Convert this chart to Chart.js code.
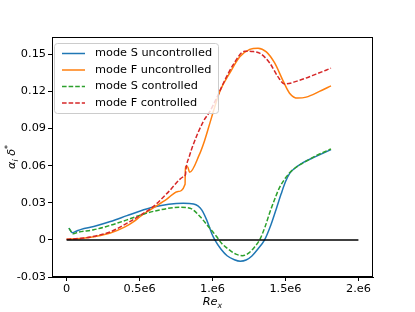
<!DOCTYPE html>
<html>
<head>
<meta charset="utf-8">
<script src="https://cdn.jsdelivr.net/npm/chart.js@4"></script>
<style>
  html, body { margin: 0; padding: 0; background: #fff; }
  #wrap { width: 415px; height: 312px; }
</style>
</head>
<body>
<div id="wrap"><canvas id="chart" width="415" height="312"></canvas></div>
<script>
// Re_x positions (in units of 1e6) and alpha_i*delta* values
const reSUnc = [0.016, 0.04, 0.07, 0.1, 0.186, 0.3, 0.414, 0.5, 0.596, 0.7, 0.8, 0.87, 0.9, 0.926, 0.96, 0.994, 1.016, 1.06, 1.1, 1.15, 1.19, 1.23, 1.27, 1.31, 1.357, 1.4, 1.437, 1.47, 1.5, 1.53, 1.56, 1.62, 1.71, 1.812]
const sUnc = [0.0095, 0.0058, 0.0072, 0.0085, 0.0108, 0.0148, 0.0196, 0.0232, 0.0265, 0.0288, 0.0296, 0.029, 0.0275, 0.0243, 0.0162, 0.0054, 0.0, -0.0078, -0.0128, -0.016, -0.0172, -0.0163, -0.013, -0.0075, 0.0, 0.012, 0.025, 0.037, 0.047, 0.054, 0.0575, 0.0625, 0.0675, 0.073]

const reFUnc = [0, 0.1, 0.2, 0.3, 0.4, 0.46, 0.505, 0.573, 0.687, 0.76, 0.812, 0.814, 0.83, 0.843, 0.909, 0.945, 0.982, 1.016, 1.05, 1.119, 1.187, 1.255, 1.312, 1.369, 1.426, 1.482, 1.528, 1.585, 1.642, 1.733, 1.812]
const fUnc = [0.0005, 0.0012, 0.0028, 0.0055, 0.0105, 0.0148, 0.0189, 0.0243, 0.033, 0.039, 0.045, 0.0593, 0.059, 0.0546, 0.0687, 0.08, 0.0944, 0.1078, 0.12, 0.135, 0.148, 0.154, 0.155, 0.152, 0.143, 0.129, 0.1186, 0.1146, 0.1154, 0.12, 0.1245]

const reSCtl = [0.016, 0.045, 0.08, 0.186, 0.3, 0.414, 0.5, 0.641, 0.778, 0.846, 0.914, 0.971, 1.028, 1.062, 1.12, 1.16, 1.205, 1.25, 1.29, 1.323, 1.36, 1.392, 1.43, 1.46, 1.5, 1.53, 1.57, 1.619, 1.71, 1.812]
const sCtl = [0.0095, 0.005, 0.0062, 0.0082, 0.0118, 0.0162, 0.0198, 0.0243, 0.0264, 0.0256, 0.0189, 0.0108, 0.0027, -0.0027, -0.0085, -0.0115, -0.0128, -0.0105, -0.0055, 0.0, 0.0105, 0.022, 0.034, 0.0425, 0.05, 0.0545, 0.0585, 0.062, 0.068, 0.0735]

const reFCtl = [0, 0.1, 0.2, 0.3, 0.4, 0.5, 0.6, 0.7, 0.8, 0.815, 0.818, 0.841, 0.868, 0.937, 0.982, 1.028, 1.08, 1.141, 1.221, 1.267, 1.323, 1.392, 1.448, 1.494, 1.596, 1.71, 1.812]
const fCtl = [0.0005, 0.0013, 0.0032, 0.0065, 0.0125, 0.0195, 0.0275, 0.039, 0.051, 0.0528, 0.057, 0.0674, 0.077, 0.0957, 0.1038, 0.1146, 0.128, 0.1415, 0.1525, 0.1523, 0.151, 0.143, 0.132, 0.126, 0.129, 0.134, 0.1388]

const reZero = [0, 2]
const zeroLine = [0, 0]

const seriesLabels = ["mode S uncontrolled", "mode F uncontrolled", "mode S controlled", "mode F controlled"]

const xTickValues = [0, 0.5, 1, 1.5, 2]
const xTickLabels = ["0", "0.5e6", "1.e6", "1.5e6", "2.e6"]
const yTickValues = [-0.03, 0, 0.03, 0.06, 0.09, 0.12, 0.15]
const yTickLabels = ["-0.03", "0", "0.03", "0.06", "0.09", "0.12", "0.15"]

const FONT = "DejaVu Sans"
const FS = 11.3

const pts = (xs, ys) => xs.map((x, i) => ({ x: x, y: ys[i] }))

function lineSet(label, xs, ys, color, dashed, order) {
  return {
    label: label,
    data: pts(xs, ys),
    borderColor: color,
    backgroundColor: color,
    borderWidth: 1.5,
    borderDash: dashed ? [4.6, 2] : [],
    pointRadius: 0,
    cubicInterpolationMode: "monotone",
    order: order,
  }
}

// legend box in the upper left of the plot, like matplotlib's
const boxLegend = {
  id: "boxLegend",
  afterDraw(chart) {
    const ctx = chart.ctx
    const x0 = 54, y0 = 43, w = 164, h = 70
    ctx.save()
    ctx.beginPath()
    ctx.roundRect(x0 + 0.5, y0 + 0.5, w, h, 3)
    ctx.fillStyle = "rgba(255,255,255,0.8)"
    ctx.fill()
    ctx.strokeStyle = "#cccccc"
    ctx.lineWidth = 1
    ctx.stroke()
    ctx.font = FS + "px '" + FONT + "'"
    ctx.textBaseline = "middle"
    ctx.fillStyle = "#000"
    chart.data.datasets.forEach((ds, i) => {
      if (!ds.label) return
      const y = 53.5 + i * 16.5
      ctx.beginPath()
      ctx.setLineDash(ds.borderDash)
      ctx.strokeStyle = ds.borderColor
      ctx.lineWidth = ds.borderWidth
      ctx.moveTo(62, y)
      ctx.lineTo(85, y)
      ctx.stroke()
      ctx.setLineDash([])
      ctx.fillText(ds.label, 95, y)
    })
    ctx.restore()
  },
}

// full frame round the plot and the math-style axis titles
const frameAndTitles = {
  id: "frameAndTitles",
  afterDraw(chart) {
    const ctx = chart.ctx
    const a = chart.chartArea
    ctx.save()
    ctx.strokeStyle = "#000"
    ctx.lineWidth = 1
    ctx.strokeRect(a.left + 0.5, a.top + 0.5, a.right - a.left - 1, a.bottom - a.top - 1)

    ctx.fillStyle = "#000"
    ctx.textBaseline = "alphabetic"
    const big = "italic " + FS + "px '" + FONT + "'"
    const small = "italic " + (FS * 0.7).toFixed(1) + "px '" + FONT + "'"

    // x title: Re with subscript x
    ctx.font = big
    const wRe = ctx.measureText("Re").width
    ctx.font = small
    const wx = ctx.measureText("x").width
    let sx = (a.left + a.right) / 2 - (wRe + wx) / 2
    ctx.font = big
    ctx.fillText("Re", sx, 305)
    ctx.font = small
    ctx.fillText("x", sx + wRe, 308)

    // y title: alpha_i delta^*
    ctx.translate(15, (a.top + a.bottom) / 2)
    ctx.rotate(-Math.PI / 2)
    const parts = [["α", big, 0], ["i", small, 3], [" δ", big, 0], ["*", small, -5]]
    let total = 0
    parts.forEach((p) => { ctx.font = p[1]; total += ctx.measureText(p[0]).width })
    let px = -total / 2
    parts.forEach((p) => {
      ctx.font = p[1]
      ctx.fillText(p[0], px, p[2])
      px += ctx.measureText(p[0]).width
    })
    ctx.restore()
  },
}

new Chart(document.getElementById("chart"), {
  type: "line",
  data: {
    datasets: [
      lineSet(seriesLabels[0], reSUnc, sUnc, "#1f77b4", false, 5),
      lineSet(seriesLabels[1], reFUnc, fUnc, "#ff7f0e", false, 4),
      lineSet(seriesLabels[2], reSCtl, sCtl, "#2ca02c", true, 3),
      lineSet(seriesLabels[3], reFCtl, fCtl, "#d62728", true, 2),
      lineSet("", reZero, zeroLine, "#000000", false, 1),
    ],
  },
  options: {
    responsive: false,
    devicePixelRatio: 1,
    animation: false,
    layout: { padding: { left: 0, top: 37, right: 42, bottom: 0 } },
    plugins: { legend: { display: false }, tooltip: { enabled: false } },
    scales: {
      x: {
        type: "linear",
        min: -0.1,
        max: 2.1,
        afterFit: (s) => { s.height = 35 },
        afterBuildTicks: (s) => { s.ticks = xTickValues.map((v) => ({ value: v })) },
        ticks: {
          padding: 1,
          color: "#000",
          font: { family: FONT, size: FS },
          maxRotation: 0,
          autoSkip: false,
          callback: (v) => xTickLabels[xTickValues.indexOf(v)],
        },
        grid: { drawOnChartArea: false, tickLength: 4, tickColor: "#000", tickWidth: 1 },
        border: { color: "#000", width: 1 },
      },
      y: {
        type: "linear",
        min: -0.03,
        max: 0.164,
        afterFit: (s) => { s.width = 52 },
        afterBuildTicks: (s) => { s.ticks = yTickValues.map((v) => ({ value: v })) },
        ticks: {
          padding: 2,
          color: "#000",
          font: { family: FONT, size: FS },
          autoSkip: false,
          callback: (v) => yTickLabels[yTickValues.indexOf(v)],
        },
        grid: { drawOnChartArea: false, tickLength: 4, tickColor: "#000", tickWidth: 1 },
        border: { color: "#000", width: 1 },
      },
    },
  },
  plugins: [boxLegend, frameAndTitles],
})
</script>
</body>
</html>
